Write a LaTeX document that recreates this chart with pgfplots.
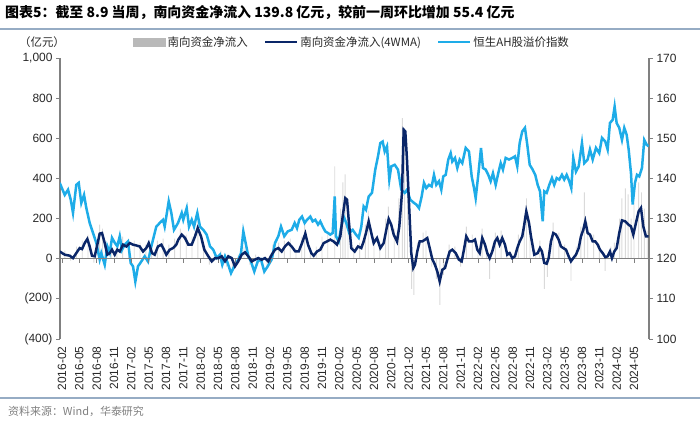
\documentclass[border=0pt]{standalone}
\usepackage{pgfplots}
\usepackage{pgfplotstable}
\pgfplotsset{compat=1.18}
\usepackage{fontspec}
\setmainfont{Liberation Sans}
\newfontfamily\cjk{Noto Sans CJK SC}
\definecolor{navy}{RGB}{10,38,104}
\definecolor{lblue}{RGB}{30,172,232}
\definecolor{bargray}{RGB}{218,218,218}
\definecolor{rulec}{RGB}{150,172,196}
\definecolor{axgray}{RGB}{128,128,128}
\definecolor{txt}{RGB}{40,40,40}

\pgfplotstableread{
m v
-0.40 138.9
0.47 135.9
1.04 137.2
1.51 134.7
1.90 131.4
2.47 138.4
2.89 138.9
3.34 133.9
3.81 135.9
4.21 132.6
4.79 128.9
5.37 126.4
5.94 123.9
6.52 119.8
6.80 121.4
7.39 118.5
7.84 123.1
8.26 121.5
8.65 125.2
9.12 124.0
9.57 123.1
9.99 125.6
10.38 122.2
10.85 123.5
11.42 124.3
11.89 118.9
12.29 118.1
12.69 114.3
13.15 118.1
13.72 119.3
14.31 120.6
14.88 119.3
15.46 123.1
16.32 128.0
16.91 128.9
17.48 129.7
17.77 128.0
18.05 130.5
18.47 134.3
18.92 131.4
19.38 127.2
20.08 128.9
20.72 131.4
20.99 129.7
21.58 132.6
21.98 128.0
22.45 129.7
22.85 128.0
23.42 131.4
23.88 128.0
24.45 127.2
25.04 126.0
25.61 123.1
26.19 122.2
26.77 120.2
27.34 121.0
27.74 118.5
28.21 120.6
28.68 118.9
29.25 116.4
29.82 118.1
30.51 119.8
30.98 121.4
31.38 126.8
31.79 123.9
32.24 120.6
32.71 119.3
33.28 116.8
33.87 119.3
34.44 119.8
35.01 116.8
35.60 118.1
36.29 119.8
36.86 123.9
37.44 125.6
37.90 128.0
38.47 125.6
39.06 126.8
39.75 127.2
40.27 128.9
40.67 127.6
41.07 129.7
41.54 130.5
42.00 128.9
42.40 129.7
42.97 130.5
43.39 129.3
43.84 129.7
44.31 128.5
44.70 129.3
45.12 128.0
45.57 126.8
46.04 126.4
46.43 126.0
46.85 126.4
47.20 135.5
47.42 125.6
47.89 124.3
48.34 128.0
48.75 130.5
49.20 128.9
49.72 126.4
50.31 127.2
50.88 126.0
51.35 125.2
51.80 128.0
52.21 133.0
52.61 132.2
53.08 135.5
53.65 136.4
54.22 142.2
54.69 145.5
55.09 148.8
55.50 149.2
55.85 146.7
56.25 148.0
56.65 139.7
56.99 143.0
57.58 143.4
58.15 142.2
58.72 137.2
59.31 136.4
59.71 137.2
60.28 134.7
60.92 133.9
61.32 133.5
61.79 132.6
62.25 135.5
62.65 138.9
63.05 137.6
63.52 138.4
63.98 138.0
64.38 140.9
64.78 138.4
65.25 139.3
65.65 137.2
65.99 140.5
66.41 140.9
66.86 144.7
67.27 146.3
67.55 144.2
68.02 145.1
68.42 142.6
68.83 144.7
69.28 143.8
69.87 147.6
70.44 146.7
70.91 140.5
71.31 137.6
71.60 135.1
72.05 140.9
72.52 147.6
72.86 142.6
73.33 142.2
73.78 140.9
74.19 139.3
74.59 141.3
75.06 138.4
75.51 141.3
75.93 143.8
76.32 142.2
76.79 145.1
77.36 144.7
77.93 145.1
78.40 145.5
78.80 143.0
79.21 148.8
79.66 151.7
80.13 152.6
80.53 148.4
80.95 143.4
81.46 142.2
81.91 140.9
82.33 138.4
82.73 136.8
83.20 129.3
83.47 136.8
83.89 136.4
84.34 138.4
84.80 140.1
85.20 138.4
85.62 140.1
86.07 139.7
86.53 140.9
86.93 139.7
87.35 140.9
87.80 139.3
88.15 137.6
88.49 145.1
88.96 141.7
89.43 143.0
90.00 148.8
90.40 143.8
90.98 144.7
91.38 147.2
91.85 144.7
92.42 147.6
92.99 146.3
93.46 150.1
94.03 149.2
94.44 147.2
94.84 153.8
95.31 154.6
95.65 157.9
96.00 153.8
96.45 152.6
96.92 149.6
97.32 152.6
97.73 150.9
98.08 147.2
98.48 141.3
98.77 133.5
99.17 138.9
99.52 140.9
99.91 140.5
100.38 142.6
100.78 149.6
101.19 148.4
101.54 148.0
}\ahdata

\pgfplotstableread{
m v
-0.40 36
0.47 20
1.33 15
1.90 3
2.47 28
3.06 53
3.46 48
3.93 78
4.38 98
4.79 61
5.19 15
5.66 12
6.11 70
6.52 125
6.92 128
7.39 78
7.84 20
8.26 28
8.65 45
9.12 20
9.57 45
9.99 36
10.56 70
11.13 61
11.72 78
12.29 70
12.86 66
13.45 61
14.02 36
14.59 53
15.01 78
15.58 28
16.04 20
16.61 61
17.19 70
17.65 45
18.05 20
18.64 45
19.21 53
19.78 70
20.13 95
20.72 120
21.29 103
21.86 70
22.45 70
23.02 111
23.49 153
24.06 111
24.63 45
25.32 12
25.91 -13
26.48 3
27.05 3
27.64 12
28.21 -13
28.78 12
29.37 3
29.94 -38
30.51 -13
31.10 20
31.67 32
32.24 12
32.83 -13
33.40 -5
33.97 3
34.56 -5
35.13 3
35.70 -13
36.29 20
36.86 45
37.44 53
38.02 36
38.59 61
39.17 78
39.75 61
40.38 36
40.97 36
41.54 78
42.11 125
42.58 70
43.15 28
43.56 15
44.13 36
44.70 45
45.29 78
45.86 86
46.43 95
47.02 86
47.59 70
48.17 111
48.58 211
49.03 302
49.33 294
49.62 194
50.07 53
50.66 36
51.23 61
51.80 53
52.21 86
52.61 128
53.08 186
53.53 128
53.95 78
54.52 103
55.09 53
55.68 78
56.13 144
56.54 198
56.99 169
57.41 120
57.98 86
58.38 161
58.84 327
59.14 643
59.42 634
59.71 493
60.11 244
60.45 28
60.80 -46
61.09 -30
61.49 36
61.91 86
62.36 86
62.82 95
63.22 103
63.64 53
64.09 -2
64.55 -30
64.95 -63
65.37 -113
65.82 -55
66.29 -46
66.68 -5
67.10 36
67.55 45
68.14 28
68.71 -5
69.18 -13
69.57 45
69.97 111
70.44 86
71.01 86
71.48 95
71.88 45
72.29 28
72.74 103
73.21 70
73.61 28
74.02 3
74.47 36
74.94 86
75.34 103
75.75 70
76.20 103
76.67 70
77.07 20
77.48 28
77.93 3
78.40 12
78.80 53
79.21 86
79.66 111
79.96 161
80.36 236
80.83 178
81.17 111
81.74 20
82.33 28
82.73 53
83.07 36
83.47 -21
83.89 -25
84.23 3
84.63 86
85.03 128
85.50 120
85.96 95
86.36 61
86.76 53
87.23 45
87.69 12
88.09 -13
88.49 3
88.96 20
89.43 53
89.82 111
90.22 144
90.57 186
90.98 128
91.38 120
91.85 86
92.30 86
92.72 70
93.11 45
93.58 28
94.03 8
94.44 12
94.84 36
95.19 3
95.59 36
96.00 53
96.45 128
96.92 191
97.49 186
98.08 169
98.48 161
98.88 120
99.34 178
99.81 236
100.21 253
100.61 161
101.07 111
101.54 111
}\navydata

\pgfplotstableread{
m v
0.5 40
1.5 -10
2.5 60
3.5 90
4.5 120
5.5 -20
6.5 170
7.0 150
7.5 40
8.5 70
9.5 60
10.5 110
11.5 100
12.5 90
13.5 80
14.5 70
15.5 40
16.5 90
17.5 100
18.5 70
19.5 100
20.5 150
21.5 120
22.5 110
23.5 190
24.5 60
25.5 -30
26.5 30
27.5 40
28.5 -40
29.5 -60
30.5 20
31.5 60
32.5 -30
33.5 20
34.5 -30
35.5 -40
36.5 70
37.5 80
38.5 90
39.5 100
40.5 50
41.5 110
42.0 170
43.0 40
44.0 60
45.0 110
46.0 120
47.2 460
48.2 250
48.6 380
49.0 420
49.5 250
50.5 60
51.5 80
52.5 170
53.0 240
54.0 110
55.0 90
56.0 200
56.5 260
57.5 150
58.3 300
58.9 700
59.3 560
59.8 400
60.5 -150
60.9 -180
61.5 80
62.5 130
63.0 140
64.0 -40
64.8 -100
65.4 -230
66.0 -80
67.0 70
68.0 60
69.0 -40
70.0 160
71.0 120
72.0 50
72.7 150
73.5 50
74.0 -100
75.0 130
76.0 140
77.0 40
78.0 -20
79.0 120
80.0 220
80.4 300
81.0 160
82.0 40
82.7 90
83.5 -150
84.0 -90
85.0 180
86.0 130
87.0 70
88.1 -110
89.0 60
89.8 160
90.4 330
91.0 180
92.0 120
93.0 70
94.0 -60
95.0 60
95.6 80
96.5 200
96.9 300
97.5 350
98.0 320
98.5 200
99.0 280
99.8 380
100.3 330
100.8 250
101.3 140
}\bardata

\begin{document}
\begin{tikzpicture}
\path[use as bounding box] (0,0) rectangle (700bp,421bp);
\pgfplotsset{common/.style={at={(60bp,82bp)}, anchor=south west, scale only axis,
  width=589bp, height=281bp, xmin=-0.35, xmax=101.6}}
% bars, left axis, x labels
\begin{axis}[common, ymin=-400, ymax=1000,
  axis y line*=left, axis x line*=bottom,
  x axis line style={draw=none},
  y axis line style={axgray, line width=1.1pt},
  xtick={0,3,...,99},
  xticklabels={2016-02,2016-05,2016-08,2016-11,2017-02,2017-05,2017-08,2017-11,2018-02,2018-05,2018-08,2018-11,2019-02,2019-05,2019-08,2019-11,2020-02,2020-05,2020-08,2020-11,2021-02,2021-05,2021-08,2021-11,2022-02,2022-05,2022-08,2022-11,2023-02,2023-05,2023-08,2023-11,2024-02,2024-05},
  xtick style={draw=none},
  xticklabel style={rotate=90, anchor=east, font=\fontsize{12}{14}\selectfont, text=txt},
  ytick={-400,-200,...,1000},
  yticklabels={(400),(200),0,200,400,600,800,{1,000}},
  yticklabel style={font=\fontsize{12}{14}\selectfont, text=txt},
  ytick style={axgray, line width=0.8pt},
  tick align=outside, major tick length=4bp,
]
\addplot[ybar, bar width=0.16, fill=bargray, draw=none] table[x=m,y=v]{\bardata};
\end{axis}
% right axis, AH premium index
\begin{axis}[common, ymin=100, ymax=170,
  axis y line*=right, axis x line=none,
  ytick={100,110,...,170},
  /pgf/number format/assume math mode=true,
  yticklabel style={font=\fontsize{12}{14}\selectfont, text=txt},
  y axis line style={axgray, line width=1.1pt},
  ytick style={axgray, line width=0.8pt},
  tick align=outside, major tick length=4bp,
]
\addplot[lblue, line width=2.5bp] table[x=m,y=v]{\ahdata};
\end{axis}
% zero line, navy 4WMA, legend
\begin{axis}[common, ymin=-400, ymax=1000,
  axis x line=middle, axis y line=none,
  x axis line style={axgray, line width=1.1pt, -},
  xtick={0,3,...,99},
  xticklabel style={text opacity=0, opacity=0},
  xtick style={axgray, line width=0.8pt},
  xtick align=outside, major tick length=4bp,
  legend style={at={(0.124,1.057)}, anchor=west, draw=none, fill=none,
    inner sep=0pt, legend columns=3,
    font=\cjk\fontsize{11.5}{13}\selectfont, text=txt,
    /tikz/every even column/.append style={column sep=14bp}},
]
\addlegendimage{legend image code/.code={\fill[bargray!85!black] (0bp,-4bp) rectangle (32bp,4bp);}}
\addlegendentry{南向资金净流入}
\addplot[navy, line width=2.5bp, legend image code/.code={\draw[navy, line width=2.5bp] (0bp,0bp) -- (32bp,0bp);}] table[x=m,y=v]{\navydata};
\addlegendentry{南向资金净流入(4WMA)}
\addlegendimage{legend image code/.code={\draw[lblue, line width=2.5bp] (0bp,0bp) -- (32bp,0bp);}}
\addlegendentry{恒生AH股溢价指数}
\end{axis}
\node[anchor=west, inner sep=0pt] at (5bp,408bp) {\cjk\bfseries\fontsize{14}{16}\selectfont 图表5：截至 8.9 当周，南向资金净流入 139.8 亿元，较前一周环比增加 55.4 亿元};
\draw[rulec, line width=1.2bp] (0bp,392bp) -- (700bp,392bp);
\node[inner sep=0pt, text=txt] at (42bp,379bp) {\cjk\fontsize{11.5}{13}\selectfont （亿元）};
\draw[rulec, line width=1.2bp] (0bp,23bp) -- (700bp,23bp);
\node[anchor=west, inner sep=0pt, text=gray] at (8bp,10bp) {\cjk\fontsize{11}{13}\selectfont 资料来源：Wind，华泰研究};
\end{tikzpicture}
\end{document}
